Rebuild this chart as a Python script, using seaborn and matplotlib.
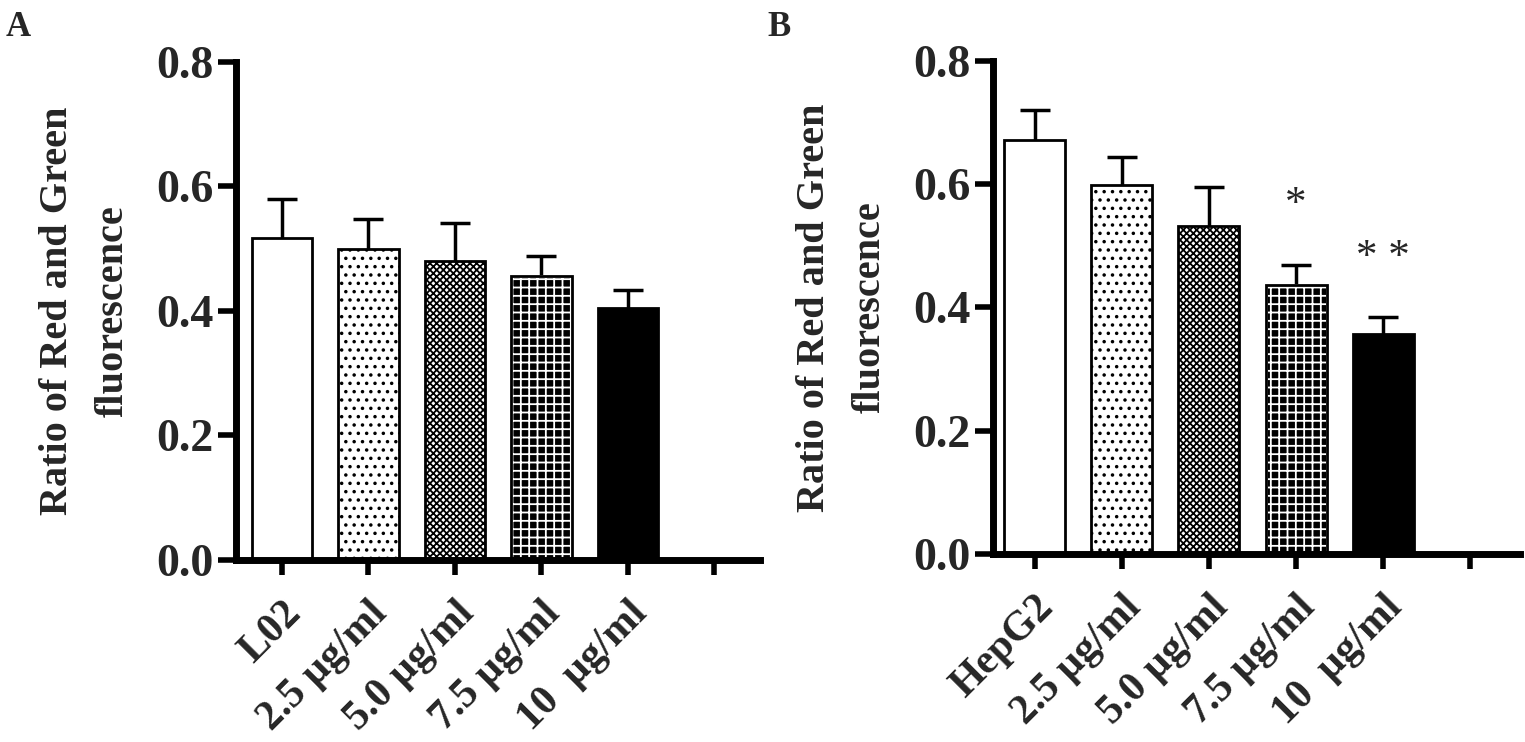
import numpy as np
import matplotlib
matplotlib.use('Agg')
import matplotlib.pyplot as plt
import seaborn as sns
from matplotlib.patches import Rectangle

# values
labels_a = ['L02', '2.5 µg/ml', '5.0 µg/ml', '7.5 µg/ml', '10  µg/ml']
means_a = [0.518, 0.499, 0.481, 0.456, 0.405]
errs_a = [0.062, 0.048, 0.060, 0.032, 0.029]

labels_b = ['HepG2', '2.5 µg/ml', '5.0 µg/ml', '7.5 µg/ml', '10  µg/ml']
means_b = [0.671, 0.599, 0.532, 0.437, 0.357]
errs_b = [0.050, 0.046, 0.063, 0.032, 0.027]
stars_b = ['', '', '', '*', '* *']

yticks = [0.0, 0.2, 0.4, 0.6, 0.8]
ylab = 'Ratio of Red and Green\nfluorescence'

sns.set_theme(style='ticks')
plt.rcParams['font.family'] = ['Liberation Serif', 'DejaVu Serif']
plt.rcParams['hatch.linewidth'] = 1.3

fig = plt.figure(figsize=(15.25, 7.42), dpi=100)
ax_a = fig.add_axes([0.1548, 0.2453, 0.3436, 0.6712])
ax_b = fig.add_axes([0.6511, 0.2534, 0.3456, 0.6644])

# bar fills: open, sparse dots, dense checker, dark with white marks, solid
styles = [('white', 'black', ''), ('white', 'black', '..'),
          ('white', 'black', 'xxxxx'), ('black', 'white', '++'),
          ('black', 'black', '')]


def panel(ax, labels, means, errs, xlim, stars=None):
    sns.barplot(x=labels, y=means, width=0.7, color='white', edgecolor='black',
                linewidth=2, errorbar=None, ax=ax)
    for p, (fc, ec, h) in zip(ax.patches, styles):
        p.set_facecolor(fc)
        p.set_edgecolor(ec)
        p.set_hatch(h)
        p.set_zorder(2)
        if ec == 'white':
            ax.add_patch(Rectangle((p.get_x(), p.get_y()), p.get_width(), p.get_height(),
                                   fill=False, edgecolor='black', linewidth=2, zorder=2.1))
    ax.errorbar(range(len(means)), means, yerr=errs, fmt='none', ecolor='black',
                elinewidth=2.5, capsize=11, capthick=2.5, zorder=1)
    if stars:
        for i, s in enumerate(stars):
            if s:
                ax.text(i, means[i] + errs[i] + 0.097, s, ha='center', va='center',
                        fontsize=31, fontweight='normal')
    ax.set_ylim(0, 0.8)
    ax.set_yticks(yticks)
    ax.set_yticklabels(['%.1f' % t for t in yticks], fontsize=33, fontweight='bold')
    ax.set_xlim(*xlim)
    ax.set_xticks(range(len(labels) + 1))
    ax.set_xticklabels(labels + [''], rotation=45, ha='right', rotation_mode='anchor',
                       fontsize=30, fontweight='bold')
    ax.set_ylabel(ylab, fontsize=29, fontweight='bold', labelpad=18, linespacing=1.65)
    ax.set_xlabel('')
    for side in ['top', 'right']:
        ax.spines[side].set_visible(False)
    for side in ['left', 'bottom']:
        ax.spines[side].set_linewidth(5)
        ax.spines[side].set_color('black')
    ax.tick_params(axis='y', length=13, width=4, color='black', pad=3)
    ax.tick_params(axis='x', length=11, width=4, color='black', pad=14)
    ax.set_facecolor('white')


panel(ax_a, labels_a, means_a, errs_a, (-0.53, 5.53))
panel(ax_b, labels_b, means_b, errs_b, (-0.48, 5.57), stars_b)

fig.text(0.004, 0.985, 'A', fontsize=25, fontweight='bold', va='top', ha='left')
fig.text(0.503, 0.985, 'B', fontsize=25, fontweight='bold', va='top', ha='left')

fig.savefig('out.png', dpi=100, facecolor='white')
